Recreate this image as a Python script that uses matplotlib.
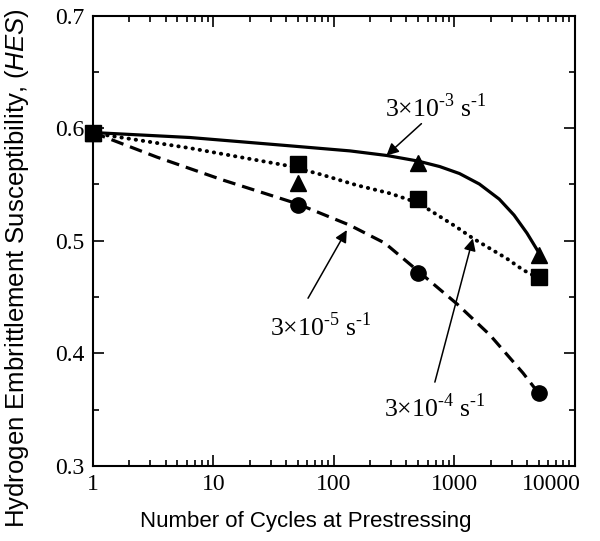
import matplotlib
matplotlib.use("Agg")
import matplotlib.pyplot as plt
from matplotlib.ticker import MultipleLocator, FixedLocator, LogLocator, NullFormatter
from matplotlib.transforms import ScaledTranslation

# measured points (cycles, HES)
cycles = [1, 50, 500, 5000]
hes_3e3 = [0.596, 0.551, 0.569, 0.487]   # triangles
hes_3e4 = [0.596, 0.568, 0.537, 0.468]   # squares
hes_3e5 = [0.596, 0.532, 0.471, 0.365]   # circles

# fitted curves
fit_n_3e3 = [1, 6.35, 43.2, 136, 276, 498, 756, 1103, 1612, 2358, 3130, 4006, 5000]
fit_3e3 = [0.5961, 0.5917, 0.5843, 0.5798, 0.5757, 0.5708, 0.5659, 0.5597, 0.5504,
           0.5370, 0.5228, 0.5068, 0.4899]
fit_n_3e4 = [1, 6.35, 43.2, 81.5, 154, 292, 500, 1035, 1430, 1970, 2710, 3730, 5000]
fit_3e4 = [0.5956, 0.5823, 0.5663, 0.5583, 0.5494, 0.5421, 0.5337, 0.5124, 0.5021,
           0.4932, 0.4844, 0.4740, 0.4669]
fit_n_3e5 = [1, 3.39, 12.0, 49.2, 135, 265, 500, 1055, 1980, 3720, 5000]
fit_3e5 = [0.5961, 0.5743, 0.5539, 0.5330, 0.5139, 0.4979, 0.4731, 0.4438, 0.4162,
           0.3825, 0.3647]

xticks = [1, 10, 100, 1000, 10000]
xticklabels = ["1", "10", "100", "1000", "10000"]
yticks = [0.3, 0.4, 0.5, 0.6, 0.7]

plt.rcParams['mathtext.fontset'] = 'custom'
plt.rcParams['mathtext.it'] = 'Liberation Sans:italic'
plt.rcParams['mathtext.rm'] = 'Liberation Serif'

fig = plt.figure(figsize=(6, 5.41), dpi=100)
ax = fig.add_axes([0.155, 0.1386, 0.803, 0.8327])

ax.plot(fit_n_3e3, fit_3e3, '-', color='k', lw=2.3)
ax.plot(fit_n_3e4, fit_3e4, color='k', lw=2.8, dashes=(0.1, 1.75), dash_capstyle='round')
ax.plot(fit_n_3e5, fit_3e5, color='k', lw=2.3, dashes=(4, 2.2))

ax.plot(cycles, hes_3e5, 'o', color='k', ms=11, clip_on=False)
ax.plot(cycles, hes_3e3, '^', color='k', ms=11, clip_on=False)
ax.plot(cycles, hes_3e4, 's', color='k', ms=12, clip_on=False)

ax.set_xscale('log')
ax.set_xlim(1, 10000)
ax.set_ylim(0.3, 0.7)
ax.xaxis.set_major_locator(FixedLocator(xticks))
ax.set_xticklabels(xticklabels)
ax.xaxis.set_minor_locator(LogLocator(base=10, subs=range(2, 10)))
ax.xaxis.set_minor_formatter(NullFormatter())
ax.set_yticks(yticks)
ax.set_yticklabels([f"{v:.1f}" for v in yticks])
ax.yaxis.set_minor_locator(MultipleLocator(0.05))

ax.tick_params(which='both', direction='in', top=True, right=True, width=1.2)
ax.tick_params(which='major', length=8)
ax.tick_params(which='minor', length=4)
ax.tick_params(axis='both', labelsize=17, pad=6)
for lab in ax.get_xticklabels() + ax.get_yticklabels():
    lab.set_fontfamily('Liberation Serif')
# last x label pulled in so it stays on the page
last = ax.get_xticklabels()[-1]
last.set_horizontalalignment('right')
last.set_transform(last.get_transform() + ScaledTranslation(0.06, 0, fig.dpi_scale_trans))
for s in ax.spines.values():
    s.set_linewidth(1.5)

ax.set_xlabel("Number of Cycles at Prestressing", fontfamily='Liberation Sans', fontsize=16)
ax.xaxis.set_label_coords(0.442, -0.1)
ax.set_ylabel(r"Hydrogen Embrittlement Susceptibility, ($\it{HES}$)", fontfamily='Liberation Sans',
              fontsize=18.5)
ax.yaxis.set_label_coords(-0.129, 0.44)

arrow = dict(arrowstyle='-|>', color='k', lw=1.1, mutation_scale=18, shrinkA=0, shrinkB=0)
ax.annotate("", xy=(273, 0.5757), xytext=(533, 0.604), arrowprops=arrow)
ax.text(702, 0.618, r"3×10$^{\text{-3}}$ s$^{\text{-1}}$", fontfamily='Liberation Serif', fontsize=18.5,
        ha='center', va='center')
ax.annotate("", xy=(128, 0.5095), xytext=(61, 0.449), arrowprops=arrow)
ax.text(78, 0.4234, r"3×10$^{\text{-5}}$ s$^{\text{-1}}$", fontfamily='Liberation Serif', fontsize=18.5,
        ha='center', va='center')
ax.annotate("", xy=(1425, 0.502), xytext=(689, 0.3745), arrowprops=arrow)
ax.text(689, 0.3514, r"3×10$^{\text{-4}}$ s$^{\text{-1}}$", fontfamily='Liberation Serif', fontsize=18.5,
        ha='center', va='center')

fig.savefig("out.png", dpi=100)
